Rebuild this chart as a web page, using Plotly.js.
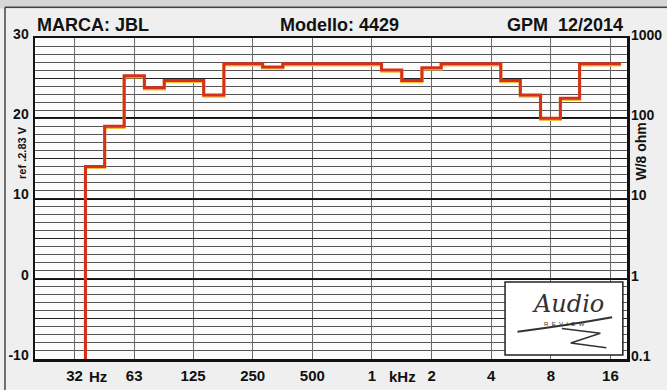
<!DOCTYPE html>
<html>
<head>
<meta charset="utf-8">
<script src="https://cdn.plot.ly/plotly-3.0.1.min.js"></script>
<style>
html,body{margin:0;padding:0;background:#efefef;}
#chart{width:667px;height:390px;}
</style>
</head>
<body>
<div id="chart"></div>
<script>
// 1/3-octave band centres (Hz) and measured level (dB)
const bandHz = [40,50,63,80,100,125,160,200,250,315,400,500,630,800,1000,1250,1600,2000,2500,3150,4000,5000,6300,8000,10000,12500,16000];
const levelDb = [14,19,25.3,23.8,24.7,24.7,22.9,26.8,26.8,26.4,26.8,26.8,26.8,26.8,26.8,26.0,24.7,26.3,26.8,26.8,26.8,24.7,22.9,20.0,22.5,26.8,26.8];

// axis ticks
const freqTickVals = [31.5,63,125,250,500,1000,2000,4000,8000,16000];
const freqTickText = ['32','63','125','250','500','1','2','4','8','16'];
const dbTickVals = [-10,0,10,20,30];
const dbTickText = ['-10','0','10','20','30'];
const powerTickVals = [0.1,1,10,100,1000];
const powerTickText = ['0.1','1','10','100','1000'];

const dbRange = [-10,30];
const freqRange = [Math.log10(19.9), Math.log10(19400)];

// build the stepped band curve from band centres
const n = bandHz.length;
const edges = [];
edges.push(bandHz[0] / Math.sqrt(bandHz[1] / bandHz[0]));
for (let i = 0; i < n - 1; i++) edges.push(Math.sqrt(bandHz[i] * bandHz[i + 1]));
edges.push(bandHz[n - 1] * Math.sqrt(bandHz[n - 1] / bandHz[n - 2]));
const stepX = [edges[0]], stepY = [dbRange[0]];
for (let i = 0; i < n; i++) {
  stepX.push(edges[i], edges[i + 1]);
  stepY.push(levelDb[i], levelDb[i]);
}

const FONT = 'Liberation Sans, Arial, sans-serif';

const traces = [
  {x: [bandHz[0]], y: [0], xaxis: 'x', yaxis: 'y', mode: 'markers', marker: {opacity: 0}, hoverinfo: 'skip', showlegend: false},
  {x: [bandHz[0]], y: [1], xaxis: 'x', yaxis: 'y2', mode: 'markers', marker: {opacity: 0}, hoverinfo: 'skip', showlegend: false},
  {x: [bandHz[0]], y: [0], xaxis: 'x', yaxis: 'y3', mode: 'markers', marker: {opacity: 0}, hoverinfo: 'skip', showlegend: false},
  {x: stepX, y: stepY, xaxis: 'x', yaxis: 'y4', mode: 'lines', hoverinfo: 'skip',
   line: {color: '#f2c23a', width: 3.2, shape: 'linear'}, showlegend: false},
  {x: stepX, y: stepY, xaxis: 'x', yaxis: 'y5', mode: 'lines', hoverinfo: 'skip',
   line: {color: '#d6301d', width: 3, shape: 'linear'}, showlegend: false}
];

const layout = {
  width: 667, height: 390,
  margin: {l: 35, r: 40, t: 38, b: 31},
  paper_bgcolor: '#efefef',
  plot_bgcolor: '#fcfcfc',
  font: {family: FONT, color: '#111', size: 14},
  xaxis: {
    type: 'log', range: freqRange, tickvals: freqTickVals, ticktext: freqTickText,
    showgrid: true, gridcolor: '#6a6a6a', gridwidth: 1,
    showline: true, linecolor: '#111', linewidth: 2.5, mirror: true,
    ticks: '', zeroline: false, ticklabelstandoff: 1,
    tickfont: {family: FONT, size: 15, color: '#111', weight: 'bold'}
  },
  yaxis: {
    range: dbRange, tickvals: dbTickVals, ticktext: dbTickText,
    showgrid: true, gridcolor: '#111', gridwidth: 2,
    minor: {dtick: 1, showgrid: true, gridcolor: '#555', gridwidth: 1, ticks: ''},
    showline: true, linecolor: '#111', linewidth: 2.5, mirror: true,
    ticks: '', zeroline: false, ticklabelstandoff: 1, ticklabelshift: -4,
    tickfont: {family: FONT, size: 14, color: '#111', weight: 'bold'}
  },
  yaxis2: {
    type: 'log', range: [-1, 3], overlaying: 'y', side: 'right',
    tickvals: powerTickVals, ticktext: powerTickText, showgrid: false,
    ticks: '', zeroline: false, showline: false, ticklabelstandoff: 3, ticklabelshift: -3,
    tickfont: {family: FONT, size: 14, color: '#111', weight: 'bold'}
  },
  yaxis3: {
    range: dbRange, overlaying: 'y', dtick: 5, showgrid: true, gridcolor: '#222', gridwidth: 1,
    showticklabels: false, ticks: '', zeroline: false, showline: false
  },
  yaxis4: {
    range: [dbRange[0] + 0.14, dbRange[1] + 0.14], overlaying: 'y', showgrid: false,
    showticklabels: false, ticks: '', zeroline: false, showline: false
  },
  yaxis5: {
    range: dbRange, overlaying: 'y', showgrid: false,
    showticklabels: false, ticks: '', zeroline: false, showline: false
  },
  shapes: [
    {type: 'rect', xref: 'paper', yref: 'paper', x0: -0.08, x1: 1.1, y0: 1.092, y1: 1.2,
     fillcolor: '#d6d6d6', line: {width: 0}, layer: 'below'},
    {type: 'line', xref: 'paper', yref: 'paper', x0: -0.0507, x1: 1.1, y0: 1.096, y1: 1.096,
     line: {color: '#444', width: 1.5}},
    {type: 'line', xref: 'paper', yref: 'paper', x0: -0.0507, x1: -0.0507, y0: -0.2, y1: 1.096,
     line: {color: '#444', width: 1.5}},
    {type: 'rect', xref: 'paper', yref: 'paper', x0: 0.794, x1: 0.993, y0: 0.0125, y1: 0.24,
     fillcolor: '#ffffff', line: {color: '#222', width: 1.5}, layer: 'above'},
    {type: 'path', xref: 'paper', yref: 'paper', layer: 'above',
     path: 'M 0.815,0.085 Q 0.90,0.105 0.975,0.13', line: {color: '#333', width: 2}},
    {type: 'path', xref: 'paper', yref: 'paper', layer: 'above',
     path: 'M 0.89,0.095 L 0.955,0.08 L 0.905,0.05 L 0.965,0.035', line: {color: '#333', width: 1.5}}
  ],
  annotations: [
    {text: 'MARCA: JBL', xref: 'paper', yref: 'paper', x: 0, y: 1.04, xanchor: 'left', yanchor: 'middle',
     showarrow: false, font: {family: FONT, size: 18, color: '#111', weight: 'bold'}},
    {text: 'Modello: 4429', xref: 'paper', yref: 'paper', x: 0.515, y: 1.04, xanchor: 'center', yanchor: 'middle',
     showarrow: false, font: {family: FONT, size: 18, color: '#111', weight: 'bold'}},
    {text: 'GPM  12/2014', xref: 'paper', yref: 'paper', x: 0.997, y: 1.04, xanchor: 'right', yanchor: 'middle',
     showarrow: false, font: {family: FONT, size: 18, color: '#111', weight: 'bold'}},
    {text: 'ref .2.83 V', xref: 'paper', yref: 'paper', x: -0.022, y: 0.645, xanchor: 'center', yanchor: 'middle',
     textangle: -90, showarrow: false, font: {family: FONT, size: 11, color: '#111', weight: 'bold'}},
    {text: 'W/8 ohm', xref: 'paper', yref: 'paper', x: 1.023, y: 0.645, xanchor: 'center', yanchor: 'middle',
     textangle: -90, showarrow: false, font: {family: FONT, size: 14, color: '#111', weight: 'bold'}},
    {text: 'Hz', xref: 'paper', yref: 'paper', x: 0.106, y: -0.055, xanchor: 'center', yanchor: 'middle',
     showarrow: false, font: {family: FONT, size: 15, color: '#111', weight: 'bold'}},
    {text: 'kHz', xref: 'paper', yref: 'paper', x: 0.62, y: -0.055, xanchor: 'center', yanchor: 'middle',
     showarrow: false, font: {family: FONT, size: 15, color: '#111', weight: 'bold'}},
    {text: '<i>Audio</i>', xref: 'paper', yref: 'paper', x: 0.9, y: 0.17, xanchor: 'center', yanchor: 'middle',
     showarrow: false, font: {family: 'DejaVu Serif, serif', size: 24, color: '#333'}},
    {text: 'R  E  V  I  E  W', xref: 'paper', yref: 'paper', x: 0.895, y: 0.108, xanchor: 'center', yanchor: 'middle',
     showarrow: false, font: {family: FONT, size: 6, color: '#333'}}
  ]
};

Plotly.newPlot('chart', traces, layout, {staticPlot: true, displayModeBar: false});
</script>
</body>
</html>
